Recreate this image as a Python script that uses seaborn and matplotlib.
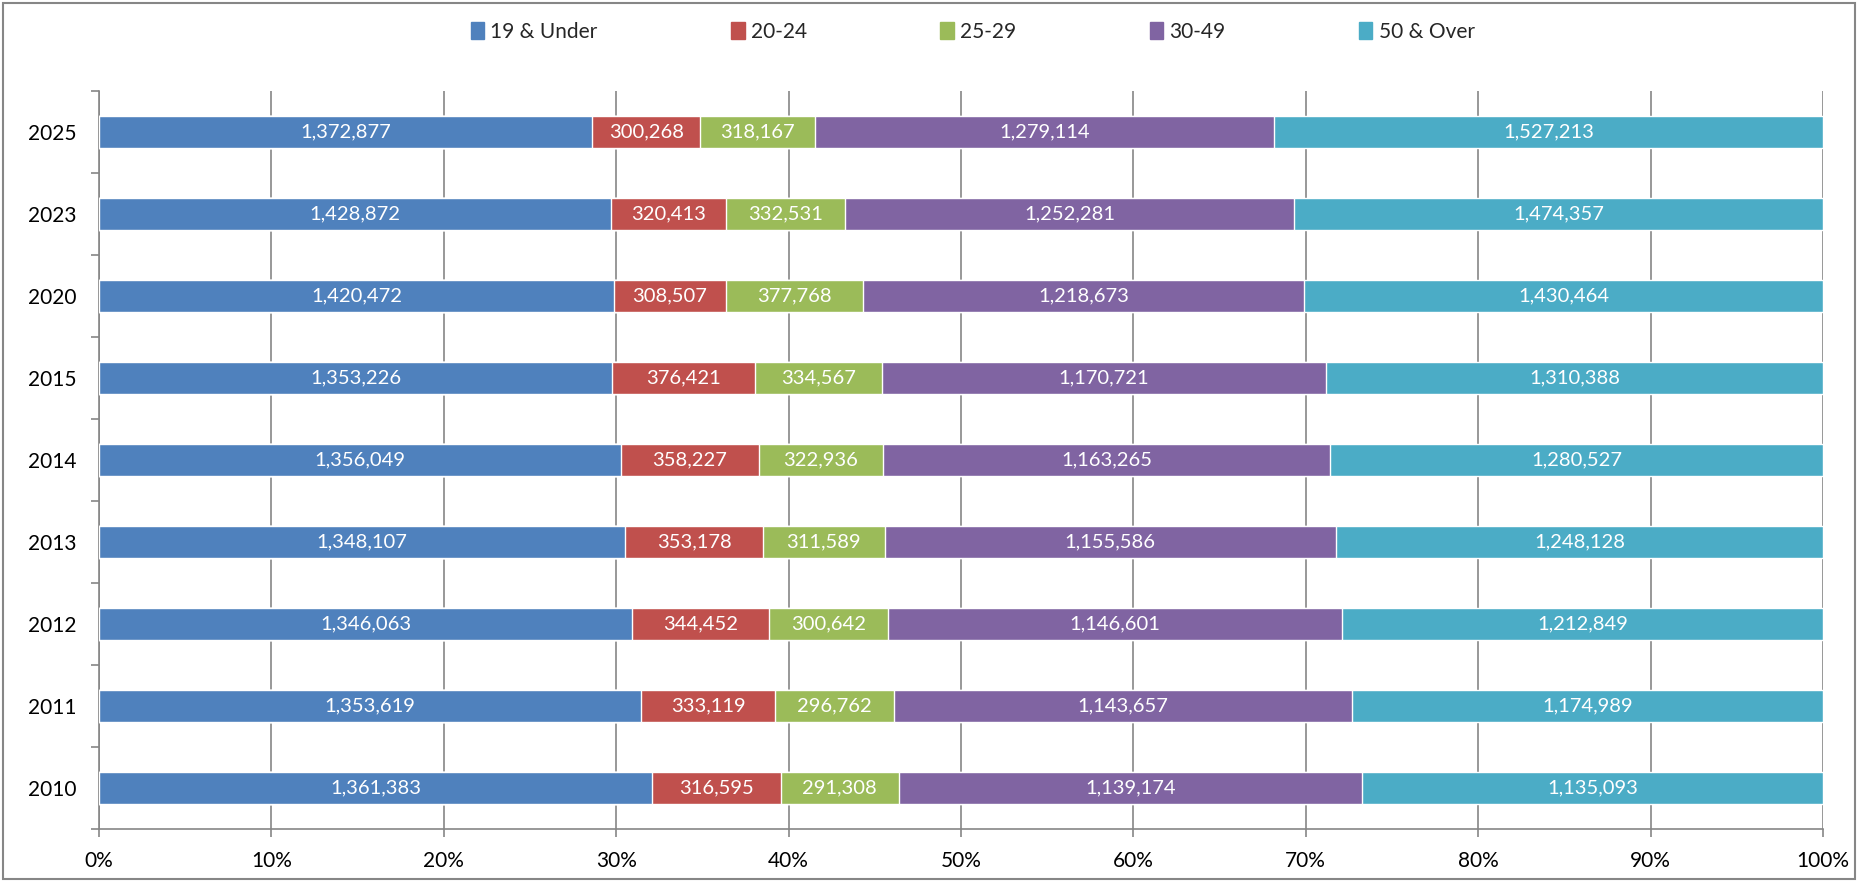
import matplotlib
matplotlib.use("Agg")
import matplotlib.pyplot as plt
import seaborn as sns
import numpy as np
import pandas as pd
from matplotlib.ticker import MultipleLocator, FixedLocator, PercentFormatter

years = ["2025", "2023", "2020", "2015", "2014", "2013", "2012", "2011", "2010"]
series_names = ["19 & Under", "20-24", "25-29", "30-49", "50 & Over"]
under19 = [1372877, 1428872, 1420472, 1353226, 1356049, 1348107, 1346063, 1353619, 1361383]
age20_24 = [300268, 320413, 308507, 376421, 358227, 353178, 344452, 333119, 316595]
age25_29 = [318167, 332531, 377768, 334567, 322936, 311589, 300642, 296762, 291308]
age30_49 = [1279114, 1252281, 1218673, 1170721, 1163265, 1155586, 1146601, 1143657, 1139174]
over50 = [1527213, 1474357, 1430464, 1310388, 1280527, 1248128, 1212849, 1174989, 1135093]
colors = ["#4F81BD", "#C0504D", "#9BBB59", "#8064A2", "#4BACC6"]

sns.set_theme(style="white")
plt.rcParams["font.family"] = ["Lato", "DejaVu Sans"]

vals = np.array([under19, age20_24, age25_29, age30_49, over50], dtype=float)
totals = vals.sum(axis=0)
pct = vals / totals * 100
cum = np.cumsum(pct, axis=0)

fig = plt.figure(figsize=(18.58, 8.81), dpi=100)
ax = fig.add_axes([99/1858, 1 - 829/881, (1823 - 99)/1858, (829 - 91)/881])

# draw cumulative bars from the widest to the narrowest
for i in range(len(series_names) - 1, -1, -1):
    df = pd.DataFrame({"year": years, "cum": cum[i]})
    sns.barplot(data=df, x="cum", y="year", orient="h", color=colors[i],
                saturation=1, width=0.4, ax=ax, zorder=3, order=years)

# value labels
for i in range(len(series_names)):
    starts = cum[i] - pct[i]
    for j, y in enumerate(years):
        ax.text(starts[j] + pct[i][j] / 2, j, f"{int(vals[i][j]):,}",
                ha="center", va="center", color="white", fontsize=14.5, zorder=4)

ax.set_xlim(0, 100)
ax.set_ylim(len(years) - 0.5, -0.5)
ax.set_xlabel("")
ax.set_ylabel("")
ax.xaxis.set_major_locator(MultipleLocator(10))
ax.xaxis.set_major_formatter(PercentFormatter(decimals=0))
ax.grid(axis="x", color="#868686", linewidth=1.2, zorder=0)
ax.set_axisbelow(True)

ax.yaxis.set_minor_locator(FixedLocator(np.arange(-0.5, len(years), 1.0)))
ax.tick_params(axis="y", which="major", length=0, pad=16, labelsize=15, labelcolor="black")
ax.tick_params(axis="y", which="minor", left=True, length=6, width=1.2, color="#868686")
ax.tick_params(axis="x", which="major", bottom=True, length=6, width=1.2, color="#868686",
               pad=10, labelsize=15, labelcolor="black")

for side in ["top", "right"]:
    ax.spines[side].set_visible(False)
for side in ["left", "bottom"]:
    ax.spines[side].set_color("#868686")
    ax.spines[side].set_linewidth(1.2)

handles = [plt.Rectangle((0, 0), 1, 1, color=c) for c in colors]
fig.legend(handles, series_names, loc="center", bbox_to_anchor=(0.5235, 1 - 32/881), ncol=5,
           frameon=False, fontsize=15, handlelength=0.65, handleheight=0.85, handletextpad=0.3,
           columnspacing=6.4)

fig.patches.append(plt.Rectangle((0.0015, 0.002), 0.997, 0.995, transform=fig.transFigure,
                                 fill=False, edgecolor="#868686", linewidth=1.5))

fig.savefig("out.png", dpi=100, facecolor="white")
